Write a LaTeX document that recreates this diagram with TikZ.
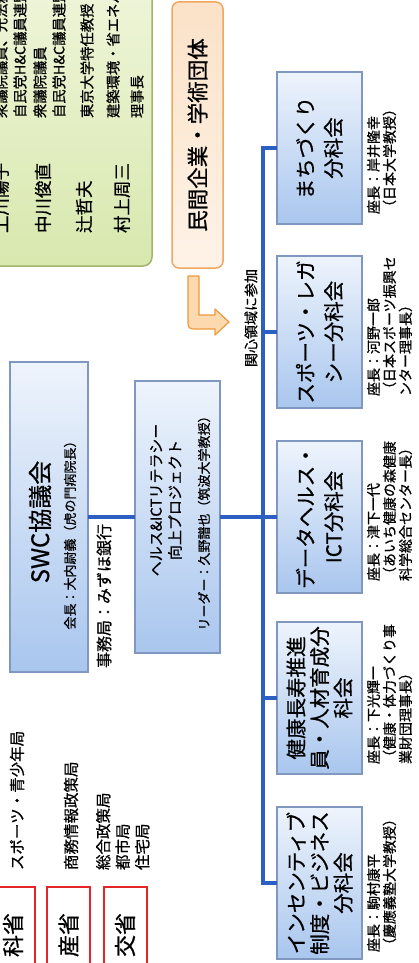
\documentclass[tikz,border=0pt]{standalone}
\usepackage{fontspec}
\setmainfont{Noto Sans CJK JP}[FakeBold=0.7]
\usetikzlibrary{arrows.meta}
\definecolor{connc}{HTML}{2B5FC3}
\definecolor{boxtop}{HTML}{EEF4FC}
\definecolor{boxbot}{HTML}{A9C6EE}
\definecolor{boxline}{HTML}{8098C0}
\definecolor{grtop}{HTML}{F0F6DC}
\definecolor{grbot}{HTML}{D8E8AE}
\definecolor{grline}{HTML}{A3B56A}
\definecolor{pctop}{HTML}{FBE2C8}
\definecolor{pcbot}{HTML}{FEF3E8}
\definecolor{pcline}{HTML}{F0A860}
\definecolor{redline}{HTML}{E3262A}
\definecolor{arrfill}{HTML}{FCD9AE}
\definecolor{arrline}{HTML}{EE9A3C}
\newcommand\fsz[2]{\fontsize{#1}{#2}\selectfont}
\tikzset{
  every node/.style={inner sep=0pt, outer sep=0pt},
  rotnode/.style={rotate=90},
  bluebox/.style={rotnode, draw=boxline, line width=1.2pt, top color=boxtop, bottom color=boxbot,
    minimum width=152pt, minimum height=85pt, align=center, font=\fsz{20.5}{28}},
  redbox/.style={rotnode, draw=redline, line width=2pt, fill=white,
    minimum width=96pt, minimum height=43pt, font=\fsz{22}{24}},
  connline/.style={draw=connc, line width=3.5pt},
  chairtext/.style={rotnode, anchor=north west, align=left, font=\fsz{14}{16}},
  pname/.style={rotnode, anchor=west, font=\fsz{17.5}{20}},
  pdesc/.style={rotnode, anchor=west, font=\fsz{14.3}{16}},
  mdesc/.style={rotnode, anchor=west, font=\fsz{15.5}{19.5}}
}
\begin{document}
\begin{tikzpicture}[x=1pt,y=-1pt]
\useasboundingbox (0,0) rectangle (419,963);
\fill[white] (0,0) rectangle (419,963);
\clip (0,0) rectangle (419,963);

% members box
\node[rotnode, draw=grline, line width=1.5pt, top color=grtop, bottom color=grbot,
  rounded corners=9pt, minimum width=300pt, minimum height=190pt] (giin) at (57,116) {};
\node[pname] (n1) at (1,233) {上川陽子};
\node[pname] (n2) at (43,233) {中川俊直};
\node[pname] (n3) at (84,233) {辻哲夫};
\node[pname] (n4) at (122,233) {村上周三};
\node[pdesc] (d1a) at (1,118) {衆議院議員、元法務大臣};
\node[pdesc] (d1b) at (20,118) {自民党H\&C議員連盟};
\node[pdesc] (d2a) at (40,118) {衆議院議員};
\node[pdesc] (d2b) at (59,118) {自民党H\&C議員連盟};
\node[pdesc] (d3) at (87,118) {東京大学特任教授};
\node[pdesc] (d4a) at (113,118) {建築環境・省エネルギー};
\node[pdesc] (d4b) at (137,118) {理事長};

% private sector
\node[rotnode, draw=pcline, line width=1.5pt, top color=pctop, bottom color=pcbot,
  rounded corners=7pt, minimum width=266pt, minimum height=51pt, font=\fsz{21.5}{24}]
  (minkan) at (197.5,135) {民間企業・学術団体};
\filldraw[draw=arrline, fill=arrfill, line width=1.2pt, line join=round]
  (188,276) -- (199,276) -- (199,315) -- (215,315) -- (215,309) -- (229,322)
  -- (215,335) -- (215,329) -- (198,329) .. controls (188,329) .. (188,319) -- cycle;
\node[rotnode, font=\fsz{14}{16}] (kanshin) at (251,318) {関心領域に参加};

% council
\node[bluebox, minimum width=310pt, minimum height=78pt] (swc) at (49,517) {};
\node[rotnode, font=\fsz{24}{28}] (swct) at (40,522) {SWC協議会};
\node[rotnode, font=\fsz{13}{15}] (swcs) at (70,532) {会長：大内尉義（虎の門病院長）};
\node[rotnode, anchor=west, font=\fsz{16}{18}] (jimu) at (104,668) {事務局：みずほ銀行};

% project
\node[bluebox, minimum width=272pt, minimum height=85pt] (hict) at (177.5,517) {};
\node[rotnode, align=center, font=\fsz{15}{19}] (hictt) at (166,500) {ヘルス\&ICTリテラシー\\向上プロジェクト};
\node[rotnode, font=\fsz{13}{15}] (hictl) at (204,520) {リーダー：久野譜也（筑波大学教授）};

% subcommittees
\node[bluebox] (b1) at (319.5,148) {まちづくり\\分科会};
\node[bluebox] (b2) at (319.5,332) {スポーツ・レガ\\シー分科会};
\node[bluebox] (b3) at (319.5,517) {データヘルス・\\ICT分科会};
\node[bluebox, font=\fsz{20.5}{23.5}] (b4) at (319.5,698) {健康長寿推進\\員・人材育成分\\科会};
\node[bluebox, font=\fsz{20.5}{23.5}] (b5) at (319.5,883) {インセンティブ\\制度・ビジネス\\分科会};

\node[chairtext] (z1) at (367,214) {座長：岸井隆幸\\（日本大学教授）};
\node[chairtext] (z2) at (367,396) {座長：河野一郎\\（日本スポーツ振興セ\\ンター理事長）};
\node[chairtext] (z3) at (367,581) {座長：津下一代\\（あいち健康の森健康\\科学総合センター長）};
\node[chairtext] (z4) at (367,764) {座長：下光輝一\\（健康・体力づくり事\\業財団理事長）};
\node[chairtext] (z5) at (367,952) {座長：駒村康平\\（慶應義塾大学教授）};

% connectors
\coordinate (bt) at (263,148);
\coordinate (bb) at (263,883);
\draw[connline] (swc.south) -- (hict.north);
\draw[connline] (hict.south) -- (hict.south -| bt);
\draw[connline, line join=miter] (b1.north) -- (bt) -- (bb) -- (b5.north);
\draw[connline] (b2.north) -- (b2.north -| bt);
\draw[connline] (b3.north) -- (b3.north -| bt);
\draw[connline] (b4.north) -- (b4.north -| bt);

% ministries
\node[redbox] (m1) at (13,935) {科省};
\node[redbox] (m2) at (68.5,935) {産省};
\node[redbox] (m3) at (125,935) {交省};
\node[mdesc] (md1) at (17,870) {スポーツ・青少年局};
\node[mdesc] (md2) at (71,870) {商務情報政策局};
\node[rotnode, anchor=north west, align=left, font=\fsz{15.5}{19.5}] (md3) at (96,870) {総合政策局\\都市局\\住宅局};
\end{tikzpicture}
\end{document}
